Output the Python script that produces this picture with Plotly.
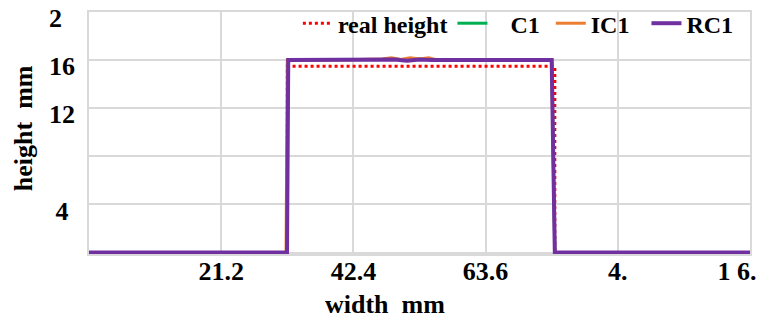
import plotly.graph_objects as go

# Measured cross-section profile (width in mm, height in mm)
real_width = [0, 31.8, 31.8, 74.7, 74.7, 106]
real_height = [0, 0, 15.5, 15.5, 0, 0]

c1_width = [0, 31.7, 31.9, 40, 47, 49, 51, 53, 55, 60, 70, 74.2, 74.7, 106]
c1_height = [0, 0, 16.0, 16.0, 16.05, 16.1, 16.0, 16.1, 16.05, 16.0, 16.0, 16.0, 0, 0]

ic1_width = [0, 31.6, 31.8, 40, 47, 48.5, 50, 51.5, 53, 54.5, 56, 60, 70, 74.2, 74.7, 106]
ic1_height = [0, 0, 16.0, 16.0, 16.1, 16.2, 16.05, 16.2, 16.1, 16.2, 16.0, 16.0, 16.0, 16.0, 0, 0]

rc1_width = [0, 31.75, 31.95, 40, 47, 49, 51, 53, 55, 60, 70, 74.2, 74.7, 106]
rc1_height = [0, 0, 16.0, 16.0, 16.0, 16.05, 15.95, 16.05, 16.0, 16.0, 16.0, 16.0, 0, 0]

x_ticks = [0, 21.2, 42.4, 63.6, 84.8, 106]
x_labels = ["", "21.2", "42.4", "63.6", "4.", "1 6.\u00a0\u00a0\u00a0\u00a0"]
y_ticks = [0, 4, 8, 12, 16, 20]
y_labels = ["", "4\u00a0", "", "12", "16", "2\u00a0\u00a0"]

FONT = "Liberation Serif"
GRID = "#d9d9d9"

fig = go.Figure()
fig.add_trace(go.Scatter(x=real_width, y=real_height, mode="lines", name="real height",
                         line=dict(color="#FF0000", width=3, dash="dot")))
fig.add_trace(go.Scatter(x=c1_width, y=c1_height, mode="lines", name="\u00a0\u00a0\u00a0C1\u00a0",
                         line=dict(color="#00B050", width=3)))
fig.add_trace(go.Scatter(x=ic1_width, y=ic1_height, mode="lines", name="IC1\u00a0\u00a0",
                         line=dict(color="#ED7D31", width=3)))
fig.add_trace(go.Scatter(x=rc1_width, y=rc1_height, mode="lines", name="RC1",
                         line=dict(color="#7030A0", width=4)))

fig.update_layout(
    width=761, height=320,
    margin=dict(l=89, r=11, t=12, b=66, autoexpand=False),
    paper_bgcolor="white", plot_bgcolor="white",
    font=dict(family=FONT, color="black", size=26, weight="bold"),
    showlegend=True,
    legend=dict(orientation="h", x=0.316, xanchor="left", y=1.045, yanchor="top",
                bgcolor="rgba(0,0,0,0)", font=dict(family=FONT, size=24, weight="bold"),
                itemwidth=30, tracegroupgap=0),
    xaxis=dict(range=[0, 106], tickvals=x_ticks, ticktext=x_labels, automargin=False,
               showgrid=True, gridcolor=GRID, gridwidth=1.5, zeroline=False,
               showline=True, linecolor=GRID, linewidth=1.5, mirror=True,
               ticks="", ticklen=0, ticklabelstandoff=-7, ticklabeloverflow="allow",
               tickfont=dict(family=FONT, size=26, weight="bold")),
    yaxis=dict(range=[-0.12, 20], tickvals=y_ticks, ticktext=y_labels, automargin=False,
               showgrid=True, gridcolor=GRID, gridwidth=1.5, zeroline=False,
               showline=True, linecolor=GRID, linewidth=1.5, mirror=True,
               ticks="", ticklen=0, ticklabelstandoff=7, ticklabelshift=6,
               ticklabeloverflow="allow",
               tickfont=dict(family=FONT, size=26, weight="bold")),
    annotations=[
        dict(text="width\u00a0\u00a0mm", xref="paper", yref="paper", x=0.448, y=-0.207,
             xanchor="center", yanchor="middle", showarrow=False,
             font=dict(family=FONT, size=26, weight="bold")),
        dict(text="height\u00a0\u00a0mm", xref="paper", yref="paper", x=-0.0998, y=0.52,
             xanchor="center", yanchor="middle", showarrow=False, textangle=-90,
             font=dict(family=FONT, size=26, weight="bold")),
    ],
)

fig.write_html("out.html")
